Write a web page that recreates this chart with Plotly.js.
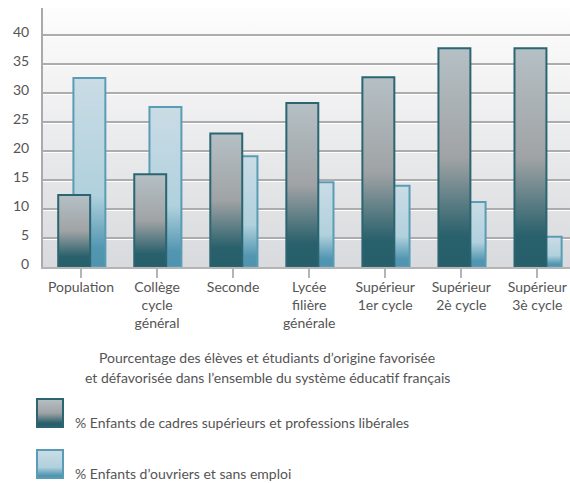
<!DOCTYPE html>
<html><head><meta charset="utf-8">
<script src="https://cdn.plot.ly/plotly-3.0.1.min.js"></script>
<style>html,body{margin:0;padding:0;background:#fff}</style>
</head><body>
<svg width="0" height="0" style="position:absolute">
<defs>
<linearGradient id="gDark" x1="0" y1="0" x2="0" y2="1">
 <stop offset="0" stop-color="#b5c0c5"/>
 <stop offset="0.5" stop-color="#a0a3a5"/>
 <stop offset="0.86" stop-color="#28606b"/>
 <stop offset="1" stop-color="#265e69"/>
</linearGradient>
<linearGradient id="gLight" x1="0" y1="0" x2="0" y2="1">
 <stop offset="0" stop-color="#cadce6"/>
 <stop offset="0.62" stop-color="#b0d1dd"/>
 <stop offset="0.9" stop-color="#5396b1"/>
 <stop offset="1" stop-color="#4f93ae"/>
</linearGradient>
<linearGradient id="gBg" x1="0" y1="0" x2="0" y2="1">
 <stop offset="0" stop-color="#fdfdfd"/>
 <stop offset="1" stop-color="#d9dadd"/>
</linearGradient>
</defs></svg>
<div id="chart" style="width:570px;height:483px"></div>
<script>
const categories = ["Population", "Collège<br>cycle<br>général", "Seconde", "Lycée<br>filière<br>générale", "Supérieur<br>1er cycle", "Supérieur<br>2è cycle", "Supérieur<br>3è cycle"];
const cadres = [12.4, 16.0, 23.0, 28.3, 32.7, 37.7, 37.7];
const ouvriers = [32.6, 27.6, 19.1, 14.6, 14.0, 11.2, 5.2];
const yTicks = [0, 5, 10, 15, 20, 25, 30, 35, 40];
const chartTitle = ["Pourcentage des élèves et étudiants d’origine favorisée", "et défavorisée dans l’ensemble du système éducatif français"];
const seriesNames = ["% Enfants de cadres supérieurs et professions libérales", "% Enfants d’ouvriers et sans emploi"];

const FONT = "Lato, 'Open Sans', sans-serif";
const TXT = "#555555";
const idx = categories.map((c, i) => i);

const traces = [
  {type: "bar", name: seriesNames[1], x: idx, y: ouvriers, width: 0.42, offset: -0.10,
   marker: {color: "#b0d1dd", line: {color: "#5a9cb5", width: 2}}, showlegend: false, hoverinfo: "y"},
  {type: "bar", name: seriesNames[0], x: idx, y: cadres, width: 0.42, offset: -0.30,
   marker: {color: "#a0a3a5", line: {color: "#2b6571", width: 2}}, showlegend: false, hoverinfo: "y"},
  {type: "scatter", x: [], y: [], yaxis: "y2", showlegend: false, hoverinfo: "skip"}
];

// plot area: x 43..570, y 8..267
const toPX = px => (px - 43) / 527;
const toPY = py => (267 - py) / 259;

const layout = {
  width: 570, height: 483,
  margin: {l: 43, r: 0, t: 8, b: 216},
  paper_bgcolor: "#ffffff",
  plot_bgcolor: "#eeeeef",
  barmode: "overlay",
  font: {family: FONT, size: 14, color: TXT},
  xaxis: {
    range: [-0.5, 6.43], tickvals: idx, ticktext: categories,
    showline: true, linecolor: "#b4b4b7", linewidth: 2,
    ticks: "outside", tickson: "boundaries", ticklen: 9, tickwidth: 2, tickcolor: "#b4b4b7",
    showgrid: false, zeroline: false, fixedrange: true,
    tickfont: {family: FONT, size: 14, color: TXT}, ticklabelstandoff: -3
  },
  yaxis: {
    range: [0, 44.66], tickvals: yTicks, ticktext: yTicks.map(String),
    showline: true, linecolor: "#a9a9ae", linewidth: 2,
    ticks: "", showgrid: true, gridcolor: "#acacac", gridwidth: 1.2,
    zeroline: false, fixedrange: true, ticklabelshift: -3, ticklabelstandoff: 9,
    tickfont: {family: FONT, size: 14, color: TXT}
  },
  yaxis2: {
    overlaying: "y", range: [0.26, 44.92], tickvals: yTicks.slice(1),
    showticklabels: false, showline: false, ticks: "",
    showgrid: true, gridcolor: "rgba(255,255,255,0.95)", gridwidth: 1.5, zeroline: false, fixedrange: true
  },
  shapes: [
    {type: "rect", xref: "paper", yref: "paper", x0: toPX(37), x1: toPX(63), y0: toPY(427), y1: toPY(399),
     fillcolor: "#a0a3a5", line: {color: "#2b6571", width: 2}},
    {type: "rect", xref: "paper", yref: "paper", x0: toPX(37), x1: toPX(63), y0: toPY(478), y1: toPY(450),
     fillcolor: "#b0d1dd", line: {color: "#5a9cb5", width: 2}}
  ],
  annotations: [
    {xref: "paper", yref: "paper", x: toPX(267), y: toPY(357), text: chartTitle[0], showarrow: false,
     xanchor: "center", yanchor: "middle", font: {family: FONT, size: 14, color: TXT}},
    {xref: "paper", yref: "paper", x: toPX(267), y: toPY(377), text: chartTitle[1], showarrow: false,
     xanchor: "center", yanchor: "middle", font: {family: FONT, size: 14, color: TXT}},
    {xref: "paper", yref: "paper", x: toPX(73), y: toPY(422), text: seriesNames[0], showarrow: false,
     xanchor: "left", yanchor: "middle", font: {family: FONT, size: 14, color: TXT}},
    {xref: "paper", yref: "paper", x: toPX(73), y: toPY(473), text: seriesNames[1], showarrow: false,
     xanchor: "left", yanchor: "middle", font: {family: FONT, size: 14, color: TXT}}
  ]
};

function applyGradients() {
  const gd = document.getElementById("chart");
  gd.querySelectorAll(".barlayer .trace").forEach((t, i) => {
    const g = i === 0 ? "url(#gLight)" : "url(#gDark)";
    t.querySelectorAll("path").forEach(p => { p.style.fill = g; });
  });
  const bg = gd.querySelector(".bglayer .bg");
  if (bg) bg.style.fill = "url(#gBg)";
  gd.querySelectorAll(".shapelayer path").forEach(p => {
    const k = p.getAttribute("data-index");
    p.style.fill = k === "0" ? "url(#gDark)" : "url(#gLight)";
  });
}

Plotly.newPlot("chart", traces, layout, {displayModeBar: false, staticPlot: true}).then(applyGradients);
</script>
</body></html>
